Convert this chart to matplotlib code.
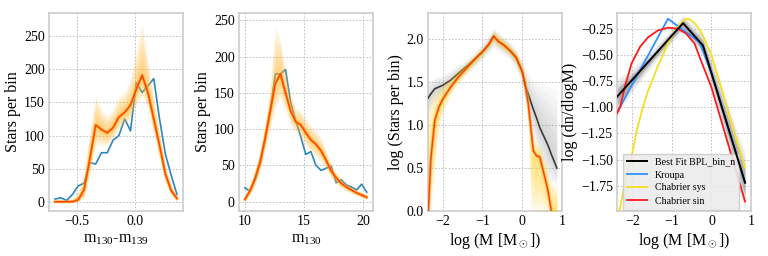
import numpy as np
import matplotlib
matplotlib.use("Agg")
import matplotlib.pyplot as plt

plt.rcParams['font.family'] = ['Liberation Serif', 'DejaVu Serif']
plt.rcParams['mathtext.fontset'] = 'custom'
plt.rcParams['mathtext.rm'] = 'Liberation Serif'
plt.rcParams['mathtext.it'] = 'Liberation Serif:italic'
plt.rcParams['axes.unicode_minus'] = True

# ---------------- Panel 1: colour distribution ----------------
p1_x = [-0.69, -0.64, -0.59, -0.54, -0.49, -0.44, -0.39, -0.34, -0.29, -0.24, -0.19,
        -0.14, -0.09, -0.04, 0.01, 0.06, 0.11, 0.16, 0.21, 0.26, 0.31, 0.36]
p1_obs = [4, 6, 2, 11, 24, 28, 59, 57, 74, 74, 93, 100, 125, 107, 180, 165, 175, 186, 125, 72, 40, 11]
p1_fit = [0, 0, 0, 0, 3, 18, 65, 116, 109, 104, 112, 128, 135, 146, 170, 191, 165, 125, 85, 42, 17, 5]
p1_hi = [2, 2, 3, 6, 15, 45, 110, 160, 140, 130, 140, 160, 165, 185, 230, 270, 215, 160, 105, 55, 25, 10]
p1_lo = [0, 0, 0, 0, 0, 5, 40, 85, 85, 85, 95, 110, 115, 125, 145, 160, 140, 100, 62, 28, 8, 0]

# ---------------- Panel 2: magnitude distribution ----------------
p2_x = [10.0, 10.43, 10.86, 11.29, 11.71, 12.14, 12.57, 13.0, 13.43, 13.86, 14.29, 14.71, 15.14,
        15.57, 16.0, 16.43, 16.86, 17.29, 17.71, 18.14, 18.57, 19.0, 19.43, 19.86, 20.29]
p2_obs = [19, 14, 30, 52, 85, 125, 176, 176, 182, 137, 112, 90, 65, 69, 50, 43, 46, 49, 26, 30, 23, 20, 16, 24, 13]
p2_fit = [3, 15, 32, 55, 88, 125, 163, 176, 150, 125, 110, 106, 95, 85, 79, 70, 57, 42, 33, 25, 20, 16, 12, 9, 6]
p2_hi = [8, 25, 45, 72, 110, 160, 240, 225, 180, 150, 130, 125, 115, 105, 98, 88, 70, 52, 40, 32, 26, 21, 17, 13, 10]
p2_lo = [0, 8, 22, 42, 70, 100, 130, 140, 125, 105, 95, 88, 78, 68, 62, 55, 44, 32, 24, 18, 14, 11, 8, 5, 3]

# ---------------- Panel 3: log mass distribution ----------------
p3_x = [-2.37, -2.3, -2.2, -2.1, -2.0, -1.8, -1.6, -1.4, -1.2, -1.0, -0.85, -0.72, -0.6, -0.47,
        -0.3, -0.15, 0.0, 0.07, 0.15, 0.22, 0.28, 0.36, 0.44, 0.52, 0.6, 0.65, 0.73, 0.8, 0.87]
p3_dark = [1.31, 1.36, 1.42, 1.44, 1.46, 1.52, 1.60, 1.68, 1.76, 1.85, 1.93, 2.03, 1.97, 1.93,
           1.86, 1.78, 1.62, 1.46, 1.36, 1.26, 1.18, 1.08, 0.97, 0.89, 0.81, 0.76, 0.66, 0.58, 0.50]
p3_red = [-0.1, 0.6, 1.05, 1.20, 1.30, 1.44, 1.56, 1.66, 1.76, 1.85, 1.93, 2.03, 1.97, 1.93,
          1.86, 1.78, 1.62, 1.48, 1.25, 0.95, 0.70, 0.64, 0.63, 0.48, 0.33, 0.23, 0.0, -0.3, -0.5]
p3_yel_hi = [1.25, 1.30, 1.38, 1.43, 1.48, 1.56, 1.65, 1.73, 1.81, 1.90, 1.98, 2.10, 2.05, 2.00,
             1.93, 1.85, 1.70, 1.58, 1.40, 1.10, 0.85, 0.78, 0.75, 0.65, 0.55, 0.45, 0.35, 0.30, 0.30]
p3_yel_lo = [0.0, 0.0, 0.5, 0.95, 1.15, 1.35, 1.48, 1.60, 1.70, 1.80, 1.88, 1.96, 1.90, 1.86,
             1.79, 1.70, 1.52, 1.35, 1.00, 0.0, 0.0, 0.0, 0.0, 0.0, 0.0, 0.0, 0.0, 0.0, 0.0]
p3_gry_hi = [1.50, 1.52, 1.55, 1.57, 1.58, 1.64, 1.70, 1.76, 1.84, 1.95, 2.03, 2.13, 2.08, 2.03,
             1.97, 1.88, 1.75, 1.68, 1.60, 1.55, 1.53, 1.51, 1.50, 1.48, 1.46, 1.45, 1.43, 1.42, 1.40]
p3_gry_lo = [1.10, 1.18, 1.27, 1.31, 1.35, 1.42, 1.51, 1.59, 1.67, 1.75, 1.83, 1.90, 1.85, 1.81,
             1.75, 1.65, 1.45, 1.30, 1.15, 1.00, 0.85, 0.72, 0.60, 0.50, 0.40, 0.36, 0.33, 0.31, 0.30]

# ---------------- Panel 4: IMF comparison ----------------
bpl_x = [-2.39, -0.72, -0.215, 0.85]
bpl_y = [-0.90, -0.197, -0.41, -1.72]
kroupa_x = [-2.39, -1.10, -0.30, 0.0, 0.85]
kroupa_y = [-1.05, -0.155, -0.38, -0.675, -1.72]
chab_sys_x = [-2.33, -2.2, -2.1, -2.0, -1.89, -1.75, -1.6, -1.45, -1.35, -1.2, -1.1, -0.95,
              -0.85, -0.765, -0.7, -0.64, -0.55, -0.42, -0.3, -0.2, -0.09, 0.0, 0.85]
chab_sys_y = [-1.99, -1.74, -1.57, -1.43, -1.22, -1.02, -0.84, -0.70, -0.60, -0.48, -0.39, -0.29,
              -0.235, -0.20, -0.17, -0.155, -0.16, -0.20, -0.26, -0.33, -0.425, -0.50, -1.58]
chab_sin_x = [-2.39, -2.31, -2.18, -2.02, -1.81, -1.6, -1.35, -1.1, -0.85, -0.64, -0.43, -0.26, 0.0, 0.85]
chab_sin_y = [-1.06, -0.996, -0.79, -0.58, -0.425, -0.33, -0.266, -0.24, -0.25, -0.297, -0.39, -0.56, -0.81, -1.90]
band_x = [-2.39, -2.0, -1.5, -1.0, -0.72, -0.4, -0.215, 0.0, 0.3, 0.6, 0.85]
band_mid = [-0.90, -0.738, -0.527, -0.316, -0.197, -0.332, -0.41, -0.674, -1.043, -1.41, -1.72]
band_dense = [0.08, 0.05, 0.03, 0.03, 0.04, 0.04, 0.05, 0.06, 0.08, 0.10, 0.12]
band_faint = [0.18, 0.12, 0.08, 0.07, 0.08, 0.10, 0.12, 0.15, 0.20, 0.25, 0.30]

fig = plt.figure(figsize=(7.68, 2.56), dpi=100)
lefts = [49, 239, 428, 617]
axes = [fig.add_axes([l / 768, 1 - 211 / 256, 134 / 768, 198 / 256]) for l in lefts]

LABEL_FS = 11.5
TICK_FS = 10


def style(ax):
    for s in ax.spines.values():
        s.set_color('#cccccc')
        s.set_linewidth(1.2)
    ax.grid(True, color='#b8b8b8', linestyle=(0, (2, 2)), linewidth=0.6)
    ax.set_axisbelow(True)
    ax.tick_params(length=0, pad=3, labelsize=TICK_FS, colors='black')


def soft_band(ax, x, mid, lo, hi, color, alpha, n=8, z=3):
    mid = np.asarray(mid, float)
    lo = np.asarray(lo, float)
    hi = np.asarray(hi, float)
    for f in np.linspace(1.0, 1.0 / n, n):
        ax.fill_between(x, mid + f * (lo - mid), mid + f * (hi - mid),
                        color=color, alpha=alpha, lw=0, zorder=z)


OBS = '#2e86c1'
FIT = '#ff4a00'
ORA_F = '#ffb830'
ORA_D = '#ffa000'

# Panel 1
ax = axes[0]
style(ax)
ax.plot(p1_x, p1_obs, color=OBS, lw=1.2, zorder=2)
soft_band(ax, p1_x, p1_fit, p1_lo, p1_hi, ORA_F, 0.11, n=8)
ax.plot(p1_x, p1_fit, color=ORA_D, lw=2.2, alpha=0.55, zorder=4)
ax.plot(p1_x, p1_fit, color=FIT, lw=1.2, zorder=5)
ax.set_xlim(-0.742, 0.412)
ax.set_ylim(-14, 285)
ax.set_xticks([-0.5, 0.0])
ax.set_yticks([0, 50, 100, 150, 200, 250])
ax.set_xlabel(r'm$_{130}$-m$_{139}$', fontsize=LABEL_FS, labelpad=2)
ax.set_ylabel('Stars per bin', fontsize=LABEL_FS, labelpad=2)

# Panel 2
ax = axes[1]
style(ax)
ax.plot(p2_x, p2_obs, color=OBS, lw=1.2, zorder=2)
soft_band(ax, p2_x, p2_fit, p2_lo, p2_hi, ORA_F, 0.11, n=8)
ax.plot(p2_x, p2_fit, color=ORA_D, lw=2.2, alpha=0.55, zorder=4)
ax.plot(p2_x, p2_fit, color=FIT, lw=1.2, zorder=5)
ax.set_xlim(9.5, 20.82)
ax.set_ylim(-13, 260)
ax.set_xticks([10, 15, 20])
ax.set_yticks([0, 50, 100, 150, 200, 250])
ax.set_xlabel(r'm$_{130}$', fontsize=LABEL_FS, labelpad=2)
ax.set_ylabel('Stars per bin', fontsize=LABEL_FS, labelpad=2)

# Panel 3
ax = axes[2]
style(ax)
soft_band(ax, p3_x, p3_dark, p3_gry_lo, p3_gry_hi, '#9a9a9a', 0.06, n=8, z=2)
ax.plot(p3_x, p3_dark, color='#3a3a3a', lw=1.2, zorder=3)
red_clip = np.clip(np.array(p3_red), 0, None)
soft_band(ax, p3_x, red_clip, p3_yel_lo, p3_yel_hi, '#ffd21f', 0.10, n=8, z=4)
ax.plot(p3_x, p3_red, color='#e8a020', lw=2.4, alpha=0.45, zorder=4)
ax.plot(p3_x, p3_red, color='#ff3000', lw=1.1, alpha=0.85, zorder=5)
ax.set_xlim(-2.37, 1.0)
ax.set_ylim(0, 2.3)
ax.set_xticks([-2, -1, 0, 1])
ax.set_yticks([0.0, 0.5, 1.0, 1.5, 2.0])
ax.set_xlabel(r'log (M [M$_\odot$])', fontsize=LABEL_FS, labelpad=2)
ax.set_ylabel('log (Stars per bin)', fontsize=LABEL_FS, labelpad=2)

# Panel 4
ax = axes[3]
style(ax)
bm = np.array(band_mid)
soft_band(ax, band_x, bm, bm - np.array(band_faint), bm + np.array(band_faint),
          '#909090', 0.08, n=8, z=2)
ax.fill_between(band_x, bm - np.array(band_dense), bm + np.array(band_dense),
                color='#808080', alpha=0.35, lw=0, zorder=2)
ax.plot(bpl_x, bpl_y, color='black', lw=1.4, zorder=6, label='Best Fit BPL_bin_n')
ax.plot(kroupa_x, kroupa_y, color='#2f8fff', lw=1.3, zorder=4, label='Kroupa')
ax.plot(chab_sys_x, chab_sys_y, color='#f5e020', lw=1.3, zorder=4, label='Chabrier sys')
ax.plot(chab_sin_x, chab_sin_y, color='#ff1a1a', lw=1.3, zorder=5, label='Chabrier sin')
ax.set_xlim(-2.39, 1.0)
ax.set_ylim(-1.99, -0.10)
ax.set_xticks([-2, -1, 0, 1])
ax.set_yticks([-1.75, -1.5, -1.25, -1.0, -0.75, -0.5, -0.25])
ax.set_xlabel(r'log (M [M$_\odot$])', fontsize=LABEL_FS, labelpad=2)
ax.set_ylabel('log (dn/dlogM)', fontsize=LABEL_FS, labelpad=2)
leg = ax.legend(loc='lower left', bbox_to_anchor=(0.03, 0.0), borderaxespad=0.15,
                fontsize=7.2, frameon=True, fancybox=False, handlelength=2.0,
                labelspacing=0.4, borderpad=0.4)
leg.get_frame().set_facecolor('#ebebeb')
leg.get_frame().set_edgecolor('#cccccc')
leg.get_frame().set_alpha(0.9)

fig.savefig('out.png', dpi=100)
